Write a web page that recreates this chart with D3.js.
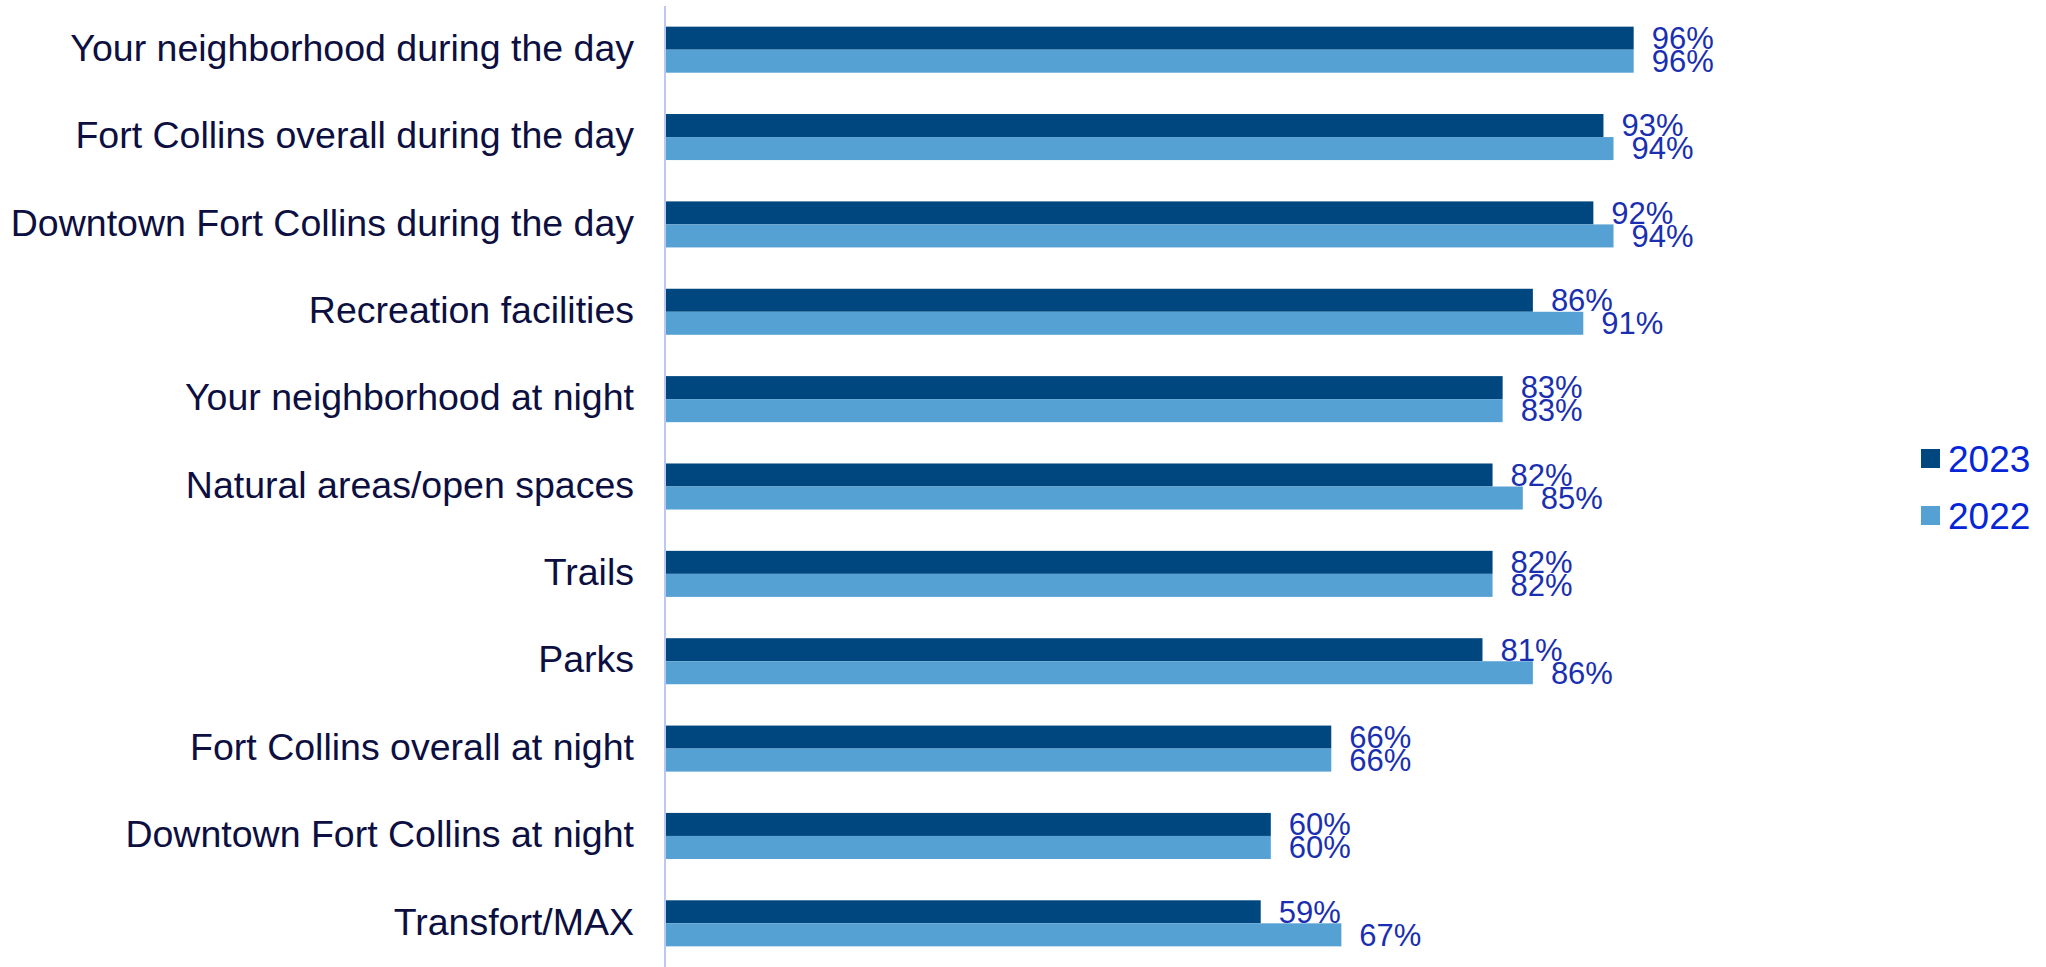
<!DOCTYPE html>
<html>
<head>
<meta charset="utf-8">
<script src="https://cdn.jsdelivr.net/npm/d3@7/dist/d3.min.js"></script>
<style>
html,body{margin:0;padding:0;background:#fff;}
svg{display:block;}
</style>
</head>
<body>
<svg id="chart" width="2046" height="967"></svg>
<script>
const categories = [
  "Your neighborhood during the day",
  "Fort Collins overall during the day",
  "Downtown Fort Collins during the day",
  "Recreation facilities",
  "Your neighborhood at night",
  "Natural areas/open spaces",
  "Trails",
  "Parks",
  "Fort Collins overall at night",
  "Downtown Fort Collins at night",
  "Transfort/MAX"
];
const seriesNames = ["2023", "2022"];
const values2023 = [96, 93, 92, 86, 83, 82, 82, 81, 66, 60, 59];
const values2022 = [96, 94, 94, 91, 83, 85, 82, 86, 66, 60, 67];
const seriesColors = ["#01477f", "#56a1d4"];

const FONT = "'Liberation Sans', Arial, sans-serif";
const svg = d3.select("#chart");
const x = d3.scaleLinear().domain([0, 100]).range([666, 1674]);
const y = d3.scaleBand().domain(categories).range([6, 967]).paddingInner(0.473).paddingOuter(0.2365);
const ySub = d3.scaleBand().domain(seriesNames).range([0, y.bandwidth()]);

const data = categories.map((c, i) => ({cat: c, vals: [
  {s: "2023", v: values2023[i]},
  {s: "2022", v: values2022[i]}
]}));

const groups = svg.selectAll("g.cat").data(data).join("g")
  .attr("class", "cat")
  .attr("transform", d => `translate(0,${y(d.cat)})`);

groups.selectAll("rect").data(d => d.vals).join("rect")
  .attr("x", x(0))
  .attr("y", d => ySub(d.s))
  .attr("width", d => x(d.v) - x(0))
  .attr("height", ySub.bandwidth())
  .attr("fill", d => seriesColors[seriesNames.indexOf(d.s)]);

groups.selectAll("text.val").data(d => d.vals).join("text")
  .attr("class", "val")
  .attr("x", d => x(d.v) + 18)
  .attr("y", d => ySub(d.s) + ySub.bandwidth() / 2)
  .attr("dy", "0.35em")
  .attr("font-family", FONT)
  .attr("font-size", 31)
  .attr("fill", "#1a2fb0")
  .text(d => d.v + "%");

// category axis
const yAxis = d3.axisLeft(y).tickSize(0).tickPadding(32);
const ag = svg.append("g").attr("transform", `translate(${x(0)},0)`).call(yAxis);
ag.select(".domain").remove();
ag.selectAll("text")
  .attr("font-family", FONT)
  .attr("font-size", 37.5)
  .attr("fill", "#0c0f3f")
  .attr("dy", "0.3em");

svg.append("line")
  .attr("x1", x(0) - 1).attr("x2", x(0) - 1)
  .attr("y1", 6).attr("y2", 967)
  .attr("stroke", "#bcc8f4").attr("stroke-width", 2);

// legend
const legend = svg.append("g").attr("transform", "translate(1921,449)");
const li = legend.selectAll("g").data(seriesNames).join("g")
  .attr("transform", (d, i) => `translate(0,${i * 57})`);
li.append("rect").attr("width", 19).attr("height", 19)
  .attr("fill", (d, i) => seriesColors[i]);
li.append("text").attr("x", 27).attr("y", 22.7)
  .attr("font-family", FONT)
  .attr("font-size", 37)
  .attr("fill", "#0525d8")
  .text(d => d);
</script>
</body>
</html>
